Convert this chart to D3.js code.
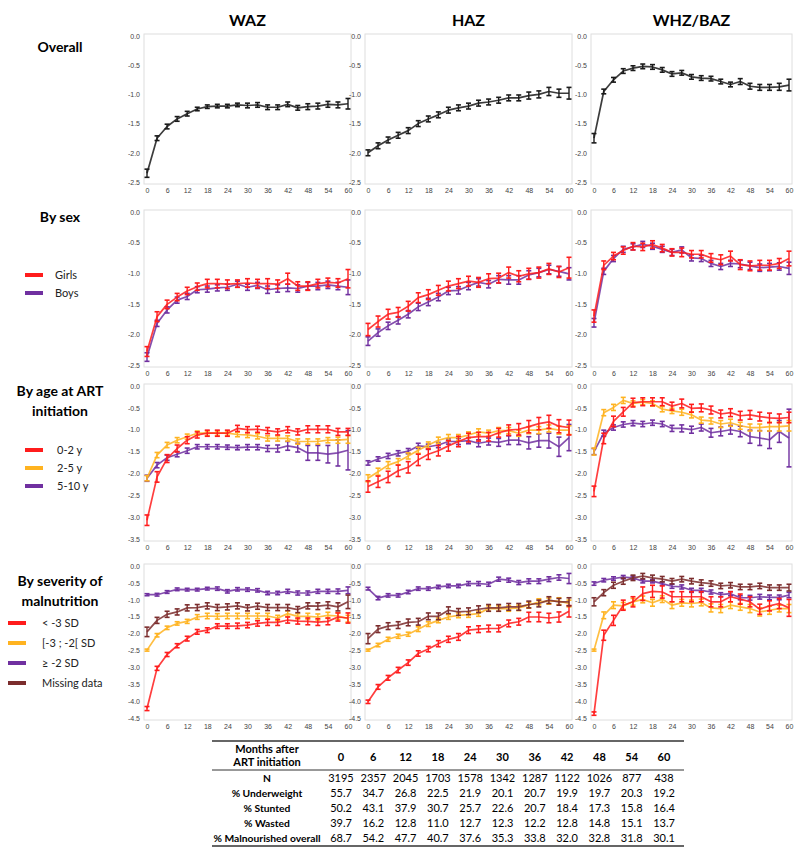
<!DOCTYPE html>
<html><head><meta charset="utf-8">
<script src="https://cdn.jsdelivr.net/npm/d3@7"></script>
<style>body{margin:0;background:#fff;} svg{display:block;}</style>
</head><body>
<svg id="c" width="800" height="854"></svg>
<script>
// ---------- categories & ticks ----------
const months = [0,3,6,9,12,15,18,21,24,27,30,33,36,39,42,45,48,51,54,57,60];
const xTicks = [0,6,12,18,24,30,36,42,48,54,60];
const yTicksR1 = [0,-0.5,-1,-1.5,-2,-2.5];
const yTicksR2 = [0,-0.5,-1,-1.5,-2,-2.5];
const yTicksR3 = [0,-0.5,-1,-1.5,-2,-2.5,-3,-3.5];
const yTicksR4 = [0,-0.5,-1,-1.5,-2,-2.5,-3,-3.5,-4,-4.5];
const colTitles = ["WAZ","HAZ","WHZ/BAZ"];

// ---------- Row 1: overall ----------
const wazOverall = [-2.35,-1.75,-1.55,-1.42,-1.33,-1.25,-1.21,-1.2,-1.2,-1.18,-1.19,-1.18,-1.22,-1.22,-1.17,-1.23,-1.21,-1.2,-1.17,-1.18,-1.16];
const wazOverallErr = [0.07,0.04,0.04,0.04,0.04,0.03,0.03,0.03,0.03,0.03,0.04,0.04,0.04,0.04,0.04,0.04,0.05,0.05,0.05,0.05,0.09];
const hazOverall = [-2.0,-1.88,-1.78,-1.7,-1.62,-1.5,-1.42,-1.35,-1.27,-1.23,-1.2,-1.15,-1.13,-1.1,-1.06,-1.06,-1.02,-1.0,-0.95,-0.98,-0.98];
const hazOverallErr = [0.05,0.05,0.05,0.05,0.05,0.05,0.05,0.05,0.05,0.05,0.05,0.05,0.05,0.05,0.05,0.05,0.06,0.06,0.07,0.07,0.1];
const whzOverall = [-1.75,-0.95,-0.75,-0.6,-0.55,-0.52,-0.53,-0.58,-0.65,-0.63,-0.7,-0.72,-0.73,-0.78,-0.83,-0.78,-0.86,-0.88,-0.88,-0.87,-0.84];
const whzOverallErr = [0.08,0.04,0.04,0.04,0.04,0.04,0.04,0.04,0.04,0.04,0.04,0.04,0.04,0.04,0.04,0.05,0.05,0.05,0.05,0.06,0.1];

// ---------- Row 2: by sex ----------
const wazGirls = [-2.28,-1.71,-1.51,-1.39,-1.29,-1.22,-1.17,-1.17,-1.18,-1.17,-1.16,-1.17,-1.17,-1.18,-1.09,-1.21,-1.21,-1.17,-1.15,-1.16,-1.09];
const wazGirlsErr = [0.08,0.08,0.07,0.06,0.06,0.06,0.07,0.07,0.07,0.06,0.07,0.07,0.08,0.07,0.09,0.07,0.07,0.07,0.07,0.07,0.15];
const wazBoys = [-2.37,-1.82,-1.6,-1.44,-1.38,-1.27,-1.26,-1.24,-1.23,-1.18,-1.23,-1.2,-1.27,-1.25,-1.24,-1.25,-1.21,-1.21,-1.19,-1.21,-1.23];
const wazBoysErr = [0.07,0.05,0.05,0.05,0.05,0.05,0.05,0.05,0.05,0.05,0.05,0.05,0.06,0.06,0.06,0.06,0.06,0.06,0.06,0.06,0.12];
const hazGirls = [-1.92,-1.79,-1.67,-1.64,-1.54,-1.4,-1.35,-1.28,-1.21,-1.17,-1.13,-1.15,-1.09,-1.08,-0.99,-1.05,-1.01,-0.99,-0.93,-0.98,-0.91];
const hazGirlsErr = [0.1,0.09,0.08,0.08,0.08,0.08,0.08,0.08,0.08,0.08,0.08,0.08,0.08,0.08,0.09,0.09,0.09,0.09,0.09,0.09,0.17];
const hazBoys = [-2.11,-1.97,-1.86,-1.77,-1.67,-1.55,-1.47,-1.39,-1.29,-1.28,-1.21,-1.15,-1.18,-1.1,-1.11,-1.11,-1.03,-0.99,-0.94,-0.97,-1.01];
const hazBoysErr = [0.07,0.06,0.06,0.06,0.06,0.06,0.06,0.06,0.06,0.06,0.06,0.06,0.06,0.06,0.07,0.07,0.07,0.07,0.07,0.08,0.1];
const whzGirls = [-1.7,-0.87,-0.72,-0.63,-0.56,-0.57,-0.53,-0.59,-0.66,-0.66,-0.69,-0.69,-0.75,-0.78,-0.72,-0.86,-0.88,-0.87,-0.87,-0.84,-0.76];
const whzGirlsErr = [0.1,0.07,0.06,0.06,0.06,0.06,0.06,0.06,0.06,0.07,0.06,0.06,0.07,0.08,0.08,0.08,0.08,0.08,0.08,0.08,0.12];
const whzBoys = [-1.81,-0.97,-0.76,-0.61,-0.57,-0.53,-0.56,-0.61,-0.66,-0.62,-0.75,-0.76,-0.84,-0.89,-0.84,-0.85,-0.88,-0.91,-0.9,-0.89,-0.92];
const whzBoysErr = [0.07,0.05,0.05,0.05,0.05,0.05,0.05,0.05,0.05,0.05,0.05,0.05,0.05,0.05,0.05,0.06,0.06,0.06,0.06,0.06,0.1];

// ---------- Row 3: by age at ART initiation ----------
const wazAge02 = [-3.07,-2.08,-1.66,-1.43,-1.24,-1.12,-1.08,-1.08,-1.08,-0.97,-1.0,-0.99,-1.02,-1.05,-1.0,-1.05,-0.99,-0.99,-0.99,-1.05,-1.05];
const wazAge02Err = [0.12,0.12,0.09,0.08,0.08,0.07,0.07,0.07,0.07,0.07,0.07,0.07,0.07,0.07,0.07,0.07,0.08,0.08,0.08,0.08,0.08];
const wazAge25 = [-2.11,-1.58,-1.35,-1.24,-1.16,-1.08,-1.08,-1.08,-1.08,-1.11,-1.12,-1.15,-1.2,-1.2,-1.2,-1.27,-1.27,-1.27,-1.24,-1.24,-1.22];
const wazAge25Err = [0.06,0.06,0.06,0.06,0.06,0.05,0.05,0.05,0.05,0.05,0.06,0.06,0.06,0.06,0.06,0.06,0.06,0.06,0.06,0.07,0.09];
const wazAge510 = [-2.11,-1.81,-1.64,-1.56,-1.48,-1.39,-1.39,-1.39,-1.4,-1.41,-1.4,-1.4,-1.43,-1.43,-1.37,-1.41,-1.53,-1.53,-1.56,-1.53,-1.47];
const wazAge510Err = [0.07,0.06,0.06,0.06,0.06,0.05,0.05,0.05,0.05,0.05,0.06,0.06,0.07,0.08,0.1,0.1,0.17,0.17,0.2,0.3,0.45];
const hazAge02 = [-2.3,-2.19,-2.08,-1.94,-1.86,-1.69,-1.56,-1.48,-1.37,-1.27,-1.18,-1.16,-1.16,-1.07,-1.01,-0.99,-0.93,-0.86,-0.82,-0.92,-0.95];
const hazAge02Err = [0.13,0.13,0.13,0.13,0.13,0.13,0.12,0.12,0.12,0.12,0.1,0.1,0.1,0.1,0.12,0.13,0.14,0.14,0.15,0.15,0.17];
const hazAge25 = [-2.11,-1.96,-1.81,-1.73,-1.6,-1.47,-1.35,-1.24,-1.18,-1.18,-1.12,-1.05,-1.08,-1.02,-1.02,-1.08,-1.01,-1.01,-0.97,-1.01,-1.01];
const hazAge25Err = [0.08,0.08,0.08,0.07,0.07,0.07,0.07,0.07,0.07,0.07,0.07,0.07,0.07,0.07,0.07,0.07,0.08,0.08,0.08,0.09,0.1];
const hazAge510 = [-1.76,-1.67,-1.6,-1.54,-1.49,-1.37,-1.39,-1.35,-1.27,-1.27,-1.25,-1.31,-1.27,-1.29,-1.24,-1.24,-1.3,-1.25,-1.25,-1.39,-1.18];
const hazAge510Err = [0.05,0.05,0.06,0.06,0.06,0.06,0.06,0.06,0.06,0.07,0.07,0.08,0.08,0.09,0.1,0.1,0.14,0.15,0.17,0.22,0.3];
const whzAge02 = [-2.41,-1.2,-0.81,-0.59,-0.38,-0.36,-0.36,-0.36,-0.46,-0.4,-0.51,-0.5,-0.55,-0.64,-0.61,-0.68,-0.66,-0.7,-0.73,-0.74,-0.72];
const whzAge02Err = [0.12,0.12,0.12,0.1,0.1,0.09,0.09,0.09,0.09,0.1,0.09,0.09,0.09,0.09,0.09,0.1,0.1,0.1,0.11,0.1,0.12];
const whzAge25 = [-1.5,-0.61,-0.49,-0.33,-0.4,-0.37,-0.4,-0.53,-0.57,-0.6,-0.66,-0.78,-0.8,-0.87,-0.84,-0.91,-0.95,-0.95,-0.93,-0.93,-0.91];
const whzAge25Err = [0.08,0.07,0.07,0.07,0.06,0.06,0.06,0.06,0.06,0.07,0.07,0.07,0.07,0.08,0.08,0.08,0.08,0.08,0.1,0.1,0.12];
const whzAge510 = [-1.5,-1.08,-0.95,-0.88,-0.85,-0.87,-0.84,-0.87,-0.97,-0.97,-1.0,-0.95,-1.07,-1.04,-1.0,-1.04,-1.16,-1.19,-1.23,-1.04,-1.19];
const whzAge510Err = [0.07,0.07,0.06,0.06,0.06,0.06,0.06,0.06,0.07,0.08,0.08,0.08,0.1,0.1,0.1,0.12,0.15,0.17,0.2,0.25,0.66];

// ---------- Row 4: by severity of malnutrition ----------
const wazSevere = [-4.22,-3.03,-2.62,-2.36,-2.15,-1.95,-1.9,-1.78,-1.78,-1.77,-1.75,-1.7,-1.67,-1.67,-1.6,-1.63,-1.64,-1.66,-1.64,-1.51,-1.54];
const wazSevereErr = [0.06,0.06,0.06,0.06,0.07,0.07,0.07,0.07,0.07,0.08,0.08,0.08,0.09,0.09,0.09,0.09,0.1,0.1,0.1,0.12,0.15];
const wazModerate = [-2.49,-2.05,-1.83,-1.7,-1.64,-1.51,-1.48,-1.49,-1.48,-1.48,-1.48,-1.48,-1.48,-1.54,-1.41,-1.49,-1.49,-1.51,-1.46,-1.48,-1.56];
const wazModerateErr = [0.03,0.05,0.05,0.05,0.06,0.07,0.08,0.08,0.08,0.08,0.08,0.08,0.08,0.08,0.08,0.08,0.09,0.09,0.09,0.1,0.1];
const wazNone = [-0.85,-0.85,-0.77,-0.69,-0.7,-0.7,-0.67,-0.67,-0.75,-0.69,-0.7,-0.72,-0.8,-0.8,-0.75,-0.8,-0.8,-0.75,-0.75,-0.75,-0.72];
const wazNoneErr = [0.03,0.04,0.04,0.04,0.04,0.04,0.04,0.05,0.05,0.05,0.05,0.05,0.05,0.05,0.06,0.06,0.06,0.06,0.06,0.07,0.1];
const wazMissing = [-1.95,-1.61,-1.43,-1.36,-1.24,-1.23,-1.18,-1.23,-1.21,-1.18,-1.24,-1.19,-1.23,-1.23,-1.23,-1.29,-1.18,-1.19,-1.16,-1.21,-1.06];
const wazMissingErr = [0.14,0.09,0.09,0.09,0.09,0.09,0.09,0.09,0.09,0.09,0.09,0.09,0.09,0.09,0.09,0.09,0.09,0.1,0.1,0.12,0.2];
const hazSevere = [-4.02,-3.58,-3.31,-3.08,-2.86,-2.59,-2.46,-2.3,-2.17,-2.1,-1.9,-1.87,-1.85,-1.85,-1.7,-1.65,-1.51,-1.51,-1.54,-1.51,-1.34];
const hazSevereErr = [0.05,0.07,0.07,0.08,0.08,0.08,0.08,0.09,0.09,0.1,0.1,0.1,0.1,0.1,0.1,0.1,0.14,0.14,0.14,0.15,0.17];
const hazModerate = [-2.49,-2.34,-2.17,-2.08,-2.02,-1.87,-1.72,-1.61,-1.51,-1.46,-1.44,-1.41,-1.26,-1.26,-1.26,-1.24,-1.16,-1.06,-1.04,-1.04,-1.11];
const hazModerateErr = [0.03,0.05,0.06,0.06,0.06,0.07,0.07,0.07,0.07,0.07,0.08,0.08,0.08,0.08,0.08,0.08,0.09,0.09,0.09,0.1,0.1];
const hazNone = [-0.67,-0.95,-0.87,-0.87,-0.77,-0.67,-0.67,-0.62,-0.59,-0.59,-0.52,-0.52,-0.54,-0.39,-0.42,-0.49,-0.45,-0.45,-0.39,-0.34,-0.37];
const hazNoneErr = [0.04,0.05,0.05,0.05,0.05,0.05,0.05,0.05,0.05,0.05,0.06,0.06,0.06,0.06,0.06,0.06,0.07,0.07,0.07,0.08,0.15];
const hazMissing = [-2.15,-1.87,-1.78,-1.75,-1.67,-1.65,-1.49,-1.49,-1.31,-1.36,-1.34,-1.28,-1.24,-1.24,-1.21,-1.21,-1.14,-1.11,-1.01,-1.06,-1.06];
const hazMissingErr = [0.15,0.1,0.1,0.1,0.1,0.1,0.1,0.1,0.1,0.1,0.1,0.1,0.1,0.1,0.1,0.1,0.1,0.1,0.1,0.1,0.12];
const whzSevere = [-4.37,-2.05,-1.61,-1.16,-1.06,-0.82,-0.75,-0.77,-0.91,-0.91,-0.91,-0.91,-1.06,-1.06,-0.91,-0.98,-1.06,-1.28,-1.18,-1.11,-1.24];
const whzSevereErr = [0.05,0.15,0.15,0.15,0.15,0.2,0.18,0.18,0.15,0.15,0.15,0.15,0.15,0.15,0.15,0.15,0.15,0.15,0.15,0.15,0.25];
const whzModerate = [-2.49,-1.46,-1.16,-1.18,-1.06,-0.99,-1.09,-0.98,-1.16,-1.09,-1.11,-1.08,-1.24,-1.26,-1.16,-1.21,-1.26,-1.36,-1.31,-1.26,-1.26];
const whzModerateErr = [0.03,0.1,0.1,0.1,0.1,0.1,0.1,0.1,0.1,0.1,0.1,0.1,0.12,0.12,0.1,0.1,0.12,0.12,0.12,0.1,0.12];
const whzNone = [-0.52,-0.42,-0.37,-0.33,-0.35,-0.45,-0.45,-0.52,-0.6,-0.62,-0.72,-0.72,-0.77,-0.85,-0.82,-0.94,-0.94,-0.91,-0.93,-0.93,-0.86];
const whzNoneErr = [0.05,0.05,0.05,0.05,0.05,0.05,0.05,0.05,0.06,0.06,0.06,0.06,0.06,0.06,0.06,0.06,0.07,0.07,0.07,0.07,0.08];
const whzMissing = [-1.06,-0.79,-0.57,-0.45,-0.35,-0.3,-0.35,-0.39,-0.45,-0.39,-0.45,-0.49,-0.52,-0.59,-0.57,-0.62,-0.62,-0.59,-0.64,-0.64,-0.64];
const whzMissingErr = [0.12,0.09,0.09,0.09,0.08,0.08,0.08,0.08,0.08,0.08,0.08,0.08,0.08,0.08,0.08,0.08,0.08,0.08,0.08,0.08,0.1];

// ---------- Table ----------
const tableMonths = [0,6,12,18,24,30,36,42,48,54,60];
const tableRowLabels = ["N","% Underweight","% Stunted","% Wasted","% Malnourished overall"];
const tableN = [3195,2357,2045,1703,1578,1342,1287,1122,1026,877,438];
const pctUnderweight = ["55.7","34.7","26.8","22.5","21.9","20.1","20.7","19.9","19.7","20.3","19.2"];
const pctStunted = ["50.2","43.1","37.9","30.7","25.7","22.6","20.7","18.4","17.3","15.8","16.4"];
const pctWasted = ["39.7","16.2","12.8","11.0","12.7","12.3","12.2","12.8","14.8","15.1","13.7"];
const pctMalnourished = ["68.7","54.2","47.7","40.7","37.6","35.3","33.8","32.0","32.8","31.8","30.1"];

// ---------- styling ----------
const C = {black:"#1a1a1a", red:"#ff1c1c", orange:"#ffb320", purple:"#7030a0", brown:"#7b2d2d"};
const colX = [[147,348],[368,569],[594,789]];
const rowY = [[36,182],[212,365],[386,539],[566,718]];
const rowTicks = [yTicksR1,yTicksR2,yTicksR3,yTicksR4];

const rows = [
  [[{v:wazOverall,e:wazOverallErr,c:C.black}],[{v:hazOverall,e:hazOverallErr,c:C.black}],[{v:whzOverall,e:whzOverallErr,c:C.black}]],
  [[{v:wazBoys,e:wazBoysErr,c:C.purple},{v:wazGirls,e:wazGirlsErr,c:C.red}],
   [{v:hazBoys,e:hazBoysErr,c:C.purple},{v:hazGirls,e:hazGirlsErr,c:C.red}],
   [{v:whzBoys,e:whzBoysErr,c:C.purple},{v:whzGirls,e:whzGirlsErr,c:C.red}]],
  [[{v:wazAge510,e:wazAge510Err,c:C.purple},{v:wazAge25,e:wazAge25Err,c:C.orange},{v:wazAge02,e:wazAge02Err,c:C.red}],
   [{v:hazAge510,e:hazAge510Err,c:C.purple},{v:hazAge25,e:hazAge25Err,c:C.orange},{v:hazAge02,e:hazAge02Err,c:C.red}],
   [{v:whzAge510,e:whzAge510Err,c:C.purple},{v:whzAge25,e:whzAge25Err,c:C.orange},{v:whzAge02,e:whzAge02Err,c:C.red}]],
  [[{v:wazNone,e:wazNoneErr,c:C.purple},{v:wazModerate,e:wazModerateErr,c:C.orange},{v:wazSevere,e:wazSevereErr,c:C.red},{v:wazMissing,e:wazMissingErr,c:C.brown}],
   [{v:hazNone,e:hazNoneErr,c:C.purple},{v:hazModerate,e:hazModerateErr,c:C.orange},{v:hazSevere,e:hazSevereErr,c:C.red},{v:hazMissing,e:hazMissingErr,c:C.brown}],
   [{v:whzNone,e:whzNoneErr,c:C.purple},{v:whzModerate,e:whzModerateErr,c:C.orange},{v:whzSevere,e:whzSevereErr,c:C.red},{v:whzMissing,e:whzMissingErr,c:C.brown}]]
];

const svg = d3.select("#c");
const FONT = "Lato, 'Open Sans', sans-serif";
const AXFONT = "'Liberation Sans', Arial, sans-serif";

rows.forEach((panels, ri) => {
  const ticks = rowTicks[ri];
  const ymin = ticks[ticks.length-1];
  panels.forEach((series, ci) => {
    const x = d3.scaleLinear().domain([0,60]).range(colX[ci]);
    const y = d3.scaleLinear().domain([0,ymin]).range(rowY[ri]);
    const g = svg.append("g");
    g.append("rect")
      .attr("x", x(0)-3).attr("y", y(0)-2)
      .attr("width", x(60)-x(0)+6).attr("height", y(ymin)-y(0)+4)
      .attr("fill","none").attr("stroke","#dedede").attr("stroke-width",1);
    const ya = g.append("g").attr("transform",`translate(${x(0)-4},0)`)
      .call(d3.axisLeft(y).tickValues(ticks).tickFormat(d=>d.toFixed(1)).tickSize(0).tickPadding(3));
    ya.select(".domain").remove();
    ya.selectAll("text").attr("font-size",7).attr("font-family",AXFONT).attr("fill","#444");
    const xa = g.append("g").attr("transform",`translate(0,${y(ymin)+3})`)
      .call(d3.axisBottom(x).tickValues(xTicks).tickSize(0).tickPadding(3));
    xa.select(".domain").remove();
    xa.selectAll("text").attr("font-size",7).attr("font-family",AXFONT).attr("fill","#444");

    const line = d3.line().x((d,i)=>x(months[i])).y(d=>y(d));
    series.forEach(s => {
      const sg = g.append("g");
      sg.append("path").datum(s.v).attr("d",line)
        .attr("fill","none").attr("stroke",s.c).attr("stroke-width",1.7)
        .attr("stroke-opacity",0.85).attr("stroke-linejoin","round");
      const eb = sg.selectAll("g.eb").data(s.v.map((v,i)=>({m:months[i],v:v,e:s.e[i]}))).join("g");
      eb.append("line").attr("x1",d=>x(d.m)).attr("x2",d=>x(d.m))
        .attr("y1",d=>y(d.v+d.e)).attr("y2",d=>y(d.v-d.e))
        .attr("stroke",s.c).attr("stroke-width",1.4);
      eb.append("line").attr("x1",d=>x(d.m)-2.5).attr("x2",d=>x(d.m)+2.5)
        .attr("y1",d=>y(d.v+d.e)).attr("y2",d=>y(d.v+d.e))
        .attr("stroke",s.c).attr("stroke-width",1.6);
      eb.append("line").attr("x1",d=>x(d.m)-2.5).attr("x2",d=>x(d.m)+2.5)
        .attr("y1",d=>y(d.v-d.e)).attr("y2",d=>y(d.v-d.e))
        .attr("stroke",s.c).attr("stroke-width",1.6);
    });
  });
});

// column titles
colTitles.forEach((t,ci)=>{
  svg.append("text").attr("x",(colX[ci][0]+colX[ci][1])/2).attr("y",26)
    .attr("text-anchor","middle").attr("font-family",FONT).attr("font-weight","bold")
    .attr("font-size",16).attr("fill","#000").text(t);
});

// row labels
const rowLabels = [
  {lines:["Overall"], y:52},
  {lines:["By sex"], y:222},
  {lines:["By age at ART","initiation"], y:396},
  {lines:["By severity of","malnutrition"], y:586}
];
rowLabels.forEach(r=>{
  r.lines.forEach((l,i)=>{
    svg.append("text").attr("x",60).attr("y",r.y+i*20).attr("text-anchor","middle")
      .attr("font-family",FONT).attr("font-weight","bold").attr("font-size",14).attr("fill","#000").text(l);
  });
});

// legends
const legends = [
  {items:[["Girls",C.red],["Boys",C.purple]], y:275, lx:25, tx:55, dy:18},
  {items:[["0-2 y",C.red],["2-5 y",C.orange],["5-10 y",C.purple]], y:450, lx:25, tx:57, dy:18},
  {items:[["< -3 SD",C.red],["[-3 ; -2[ SD",C.orange],["\u2265 -2 SD",C.purple],["Missing data",C.brown]], y:623, lx:8, tx:42, dy:20}
];
legends.forEach(L=>{
  L.items.forEach((it,i)=>{
    const yy = L.y + i*L.dy;
    svg.append("line").attr("x1",L.lx).attr("x2",L.lx+18).attr("y1",yy).attr("y2",yy)
      .attr("stroke",it[1]).attr("stroke-width",4);
    svg.append("text").attr("x",L.tx).attr("y",yy+4).attr("font-family",FONT)
      .attr("font-size",11).attr("fill","#222").text(it[0]);
  });
});

// table
const tx = d3.scalePoint().domain(tableMonths).range([341,664]);
const tLeft = 212, tRight = 684, labelX = 267;
const tg = svg.append("g").attr("font-family",FONT).attr("fill","#000");
tg.append("line").attr("x1",tLeft).attr("x2",tRight).attr("y1",741).attr("y2",741).attr("stroke","#333").attr("stroke-width",1.5);
tg.append("line").attr("x1",tLeft).attr("x2",tRight).attr("y1",770).attr("y2",770).attr("stroke","#333").attr("stroke-width",1);
tg.append("line").attr("x1",tLeft).attr("x2",tRight).attr("y1",846).attr("y2",846).attr("stroke","#333").attr("stroke-width",1.5);
tg.append("text").attr("x",labelX).attr("y",753).attr("text-anchor","middle").attr("font-weight","bold").attr("font-size",11).text("Months after");
tg.append("text").attr("x",labelX).attr("y",766).attr("text-anchor","middle").attr("font-weight","bold").attr("font-size",11).text("ART initiation");
tg.selectAll("text.hd").data(tableMonths).join("text").attr("class","hd")
  .attr("x",d=>tx(d)).attr("y",761).attr("text-anchor","middle").attr("font-weight","bold").attr("font-size",11).text(d=>d);
const tableRows = [tableN, pctUnderweight, pctStunted, pctWasted, pctMalnourished];
tableRows.forEach((vals,ri)=>{
  const yy = 782 + ri*15;
  tg.append("text").attr("x",labelX).attr("y",yy).attr("text-anchor","middle").attr("font-weight","bold").attr("font-size",10.3).text(tableRowLabels[ri]);
  tg.selectAll(null).data(vals).join("text")
    .attr("x",(d,i)=>tx(tableMonths[i])).attr("y",yy).attr("text-anchor","middle").attr("font-size",11).text(d=>d);
});
</script>
</body></html>
